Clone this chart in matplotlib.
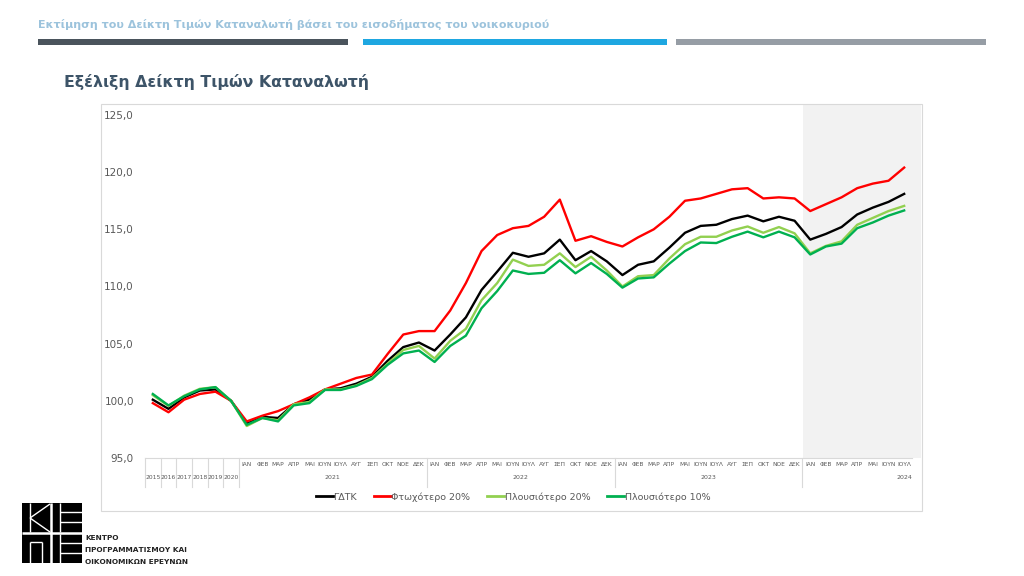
import matplotlib
matplotlib.use('Agg')
import matplotlib.pyplot as plt
from matplotlib.lines import Line2D
from matplotlib.patches import Rectangle
from matplotlib.ticker import FuncFormatter

# ---- Data ----

YEARS_ANNUAL = ['2015', '2016', '2017', '2018', '2019', '2020']
MONTHS = ['ΙΑΝ', 'ΦΕΒ', 'ΜΑΡ', 'ΑΠΡ', 'ΜΑΙ', 'ΙΟΥΝ', 'ΙΟΥΛ',
          'ΑΥΓ', 'ΣΕΠ', 'ΟΚΤ', 'ΝΟΕ', 'ΔΕΚ']
MONTHLY_YEARS = ['2021', '2022', '2023', '2024']
MONTHS_2024 = 7

cpi_all = [100.1, 99.3, 100.3, 100.9, 101.0, 100.0,
           98.0, 98.6, 98.5, 99.7, 100.1, 101.0, 101.1, 101.5, 102.1, 103.5, 104.7, 105.1,
           104.4, 105.8, 107.3, 109.7, 111.3, 112.95, 112.6, 112.9, 114.1, 112.3, 113.1, 112.2,
           111.0, 111.9, 112.2, 113.4, 114.7, 115.3, 115.4, 115.9, 116.2, 115.7, 116.1, 115.75,
           114.1, 114.6, 115.2, 116.3, 116.9, 117.4, 118.1]
poor_20 = [99.8, 99.0, 100.1, 100.6, 100.8, 100.0,
           98.2, 98.7, 99.1, 99.7, 100.3, 101.0, 101.5, 102.0, 102.3, 104.1, 105.8, 106.1,
           106.1, 107.9, 110.3, 113.1, 114.5, 115.1, 115.3, 116.1, 117.6, 114.0, 114.4, 113.9,
           113.5, 114.3, 115.0, 116.1, 117.5, 117.7, 118.1, 118.5, 118.6, 117.7, 117.8, 117.7,
           116.6, 117.2, 117.8, 118.6, 119.0, 119.25, 120.4]
rich_20 = [100.5, 99.55, 100.45, 101.05, 101.2, 100.0,
           97.8, 98.5, 98.3, 99.7, 99.9, 101.0, 101.0, 101.35, 102.0, 103.25, 104.45, 104.8,
           103.7, 105.25, 106.3, 108.8, 110.3, 112.35, 111.8, 111.9, 112.9, 111.7, 112.6, 111.4,
           110.0, 110.9, 111.0, 112.45, 113.7, 114.35, 114.35, 114.9, 115.25, 114.7, 115.2, 114.65,
           112.9, 113.55, 113.95, 115.4, 116.0, 116.6, 117.05]
rich_10 = [100.6, 99.6, 100.4, 101.0, 101.2, 100.0,
           97.9, 98.5, 98.2, 99.6, 99.8, 100.95, 100.95, 101.3, 101.9, 103.15, 104.15, 104.4,
           103.4, 104.8, 105.7, 108.1, 109.6, 111.4, 111.1, 111.2, 112.3, 111.15, 112.05, 111.1,
           109.9, 110.7, 110.8, 112.0, 113.1, 113.85, 113.8, 114.35, 114.8, 114.3, 114.8, 114.3,
           112.8, 113.5, 113.75, 115.1, 115.6, 116.2, 116.65]

SERIES = [
    ('ΓΔΤΚ', cpi_all, '#000000'),
    ('Φτωχότερο 20%', poor_20, '#ff0000'),
    ('Πλουσιότερο 20%', rich_20, '#92d050'),
    ('Πλουσιότερο 10%', rich_10, '#00b050'),
]

W, H = 1024, 576
GRID = '#d9d9d9'
TXT = '#595959'
NARROW = ['DejaVu Sans Condensed', 'DejaVu Sans']

plt.rcParams['font.family'] = NARROW


def px(x, y):
    """Pixel (from top-left) -> figure fraction."""
    return x / W, 1 - y / H


def fig_line(fig, x0, y0, x1, y1, color, lw):
    (a, b), (c, d) = px(x0, y0), px(x1, y1)
    fig.add_artist(Line2D([a, c], [b, d], color=color, lw=lw,
                          transform=fig.transFigure, solid_capstyle='butt'))


def fig_rect(fig, x0, y0, x1, y1, **kw):
    a, b = px(x0, y1)
    fig.add_artist(Rectangle((a, b), (x1 - x0) / W, (y1 - y0) / H,
                             transform=fig.transFigure, **kw))


fig = plt.figure(figsize=(W / 100, H / 100), dpi=100)

# ---- Header ----
fig.text(*px(38, 24), 'Εκτίμηση του Δείκτη Τιμών Καταναλωτή βάσει του εισοδήματος του νοικοκυριού',
         fontsize=8.0, fontweight='bold', color='#9cc3dc', va='center')
fig_rect(fig, 38, 39, 348, 45, color='#4a545c', lw=0)
fig_rect(fig, 363, 39, 667, 45, color='#1ea7e1', lw=0)
fig_rect(fig, 676, 39, 986, 45, color='#969da5', lw=0)
fig.text(*px(64, 82), 'Εξέλιξη Δείκτη Τιμών Καταναλωτή',
         fontsize=11.3, fontweight='bold', color='#3d5468', va='center')

# chart frame and 2024 shading
fig_rect(fig, 101, 104, 922, 511, fill=False, ec=GRID, lw=0.8)
fig_rect(fig, 803, 105, 921, 458, color='#f2f2f2', lw=0, zorder=0)

# ---- Axes ----
ax = fig.add_axes([145 / W, 1 - 458 / H, (912 - 145) / W, (458 - 115) / H])
ax.patch.set_alpha(0)
n = len(cpi_all)
x = list(range(n))
for label, vals, color in SERIES:
    ax.plot(x, vals, color=color, lw=1.7, label=label)

ax.set_xlim(-0.5, n - 0.5)
ax.set_ylim(95, 125)
ax.set_yticks([95, 100, 105, 110, 115, 120, 125])
ax.yaxis.set_major_formatter(FuncFormatter(lambda v, _: f'{v:.1f}'.replace('.', ',')))
ax.tick_params(axis='y', length=0, pad=8, labelsize=7.5, labelcolor=TXT)
ax.set_xticks([])
for side in ('left', 'right', 'top'):
    ax.spines[side].set_visible(False)
ax.spines['bottom'].set_color(GRID)
ax.spines['bottom'].set_linewidth(0.8)

# category labels below the axis
trans = ax.get_xaxis_transform()
for i, yr in enumerate(YEARS_ANNUAL):
    ax.text(i, -0.058, yr, transform=trans, ha='center', va='center',
            fontsize=4.3, color=TXT, clip_on=False)
pos = len(YEARS_ANNUAL)
for yr in MONTHLY_YEARS:
    count = MONTHS_2024 if yr == '2024' else 12
    for j in range(count):
        ax.text(pos + j, -0.019, MONTHS[j], transform=trans, ha='center', va='center',
                fontsize=4.2, color=TXT, clip_on=False)
    xc = pos + count - 1 if yr == '2024' else pos + (count - 1) / 2
    ax.text(xc, -0.058, yr, transform=trans, ha='center', va='center',
            fontsize=4.5, color=TXT, clip_on=False)
    pos += count

# separators between year cells / year groups
seps = [i - 0.5 for i in range(len(YEARS_ANNUAL) + 1)] + [17.5, 29.5, 41.5]
for s in seps:
    ax.plot([s, s], [0, -0.085], transform=trans, color=GRID, lw=0.8, clip_on=False)

# ---- Legend ----
handles = [Line2D([], [], color=c, lw=2) for _, _, c in SERIES]
fig.legend(handles, [s[0] for s in SERIES], loc='center', bbox_to_anchor=px(513, 497),
           ncol=4, frameon=False, fontsize=6.8, handlelength=1.8, handletextpad=0.05,
           columnspacing=1.8, labelcolor=TXT)

# ---- Logo ----
fig_rect(fig, 22, 503, 82, 563, color='black', lw=0)
wl = 1.0
fig_line(fig, 22, 533, 82, 533, 'white', 1.8)
fig_line(fig, 51, 503, 51, 563, 'white', 1.8)
# K
fig_line(fig, 30, 503, 30, 532, 'white', wl)
fig_line(fig, 30, 518, 50, 504, 'white', wl)
fig_line(fig, 30, 518, 50, 532, 'white', wl)
# E (top and bottom)
for y0 in (503, 534):
    fig_line(fig, 60, y0, 60, y0 + 29, 'white', wl)
    fig_line(fig, 60, y0 + 9, 82, y0 + 9, 'white', wl)
    fig_line(fig, 60, y0 + 19, 82, y0 + 19, 'white', wl)
# Π
fig_line(fig, 30, 542, 30, 563, 'white', wl)
fig_line(fig, 42, 542, 42, 563, 'white', wl)
fig_line(fig, 30, 542, 42, 542, 'white', wl)
for k, t in enumerate(['ΚΕΝΤΡΟ', 'ΠΡΟΓΡΑΜΜΑΤΙΣΜΟΥ ΚΑΙ', 'ΟΙΚΟΝΟΜΙΚΩΝ ΕΡΕΥΝΩΝ']):
    fig.text(*px(85, 538 + k * 12), t, fontsize=5.3, fontweight='bold',
             color='#222222', va='center')

fig.savefig('out.png', dpi=100)
